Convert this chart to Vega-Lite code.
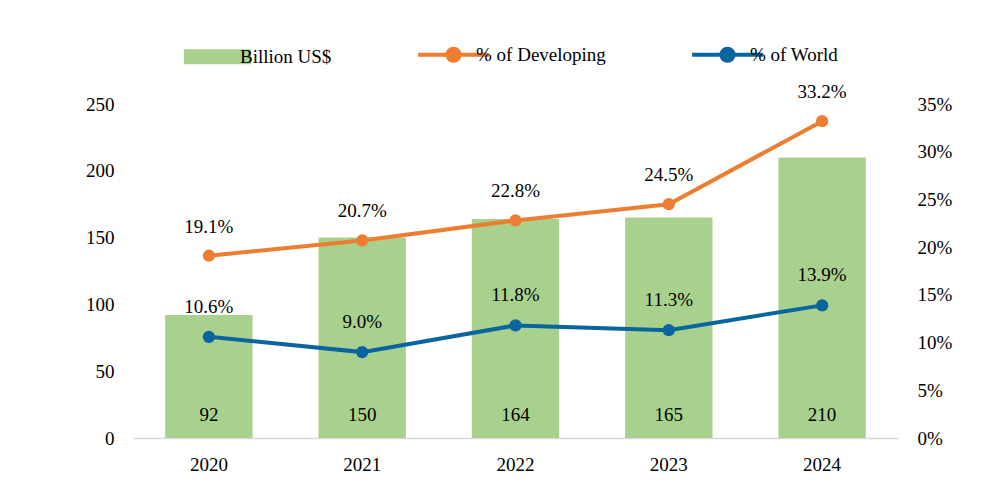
{
  "$schema": "https://vega.github.io/schema/vega-lite/v6.json",
  "autosize": "none",
  "width": 765,
  "height": 334,
  "padding": {"left": 133, "top": 104, "right": 95, "bottom": 47},
  "background": "white",
  "config": {
    "font": "Liberation Serif",
    "view": {"stroke": null},
    "axis": {"labelFont": "Liberation Serif", "labelFontSize": 19, "labelColor": "#000", "grid": false, "title": null}
  },
  "data": {
    "values": [
      {"year": "2020", "billion": 92, "developing": 0.191, "world": 0.106},
      {"year": "2021", "billion": 150, "developing": 0.207, "world": 0.090},
      {"year": "2022", "billion": 164, "developing": 0.228, "world": 0.118},
      {"year": "2023", "billion": 165, "developing": 0.245, "world": 0.113},
      {"year": "2024", "billion": 210, "developing": 0.332, "world": 0.139}
    ]
  },
  "encoding": {
    "x": {
      "field": "year", "type": "ordinal",
      "scale": {"paddingInner": 0.43, "paddingOuter": 0.21},
      "axis": {"labelAngle": 0, "domainColor": "#D9D9D9", "domainWidth": 1.5, "ticks": false, "tickSize": 0, "labelPadding": 17, "title": null}
    }
  },
  "layer": [
    {
      "layer": [
        {
          "mark": {"type": "bar"},
          "encoding": {
            "y": {"field": "billion", "type": "quantitative", "scale": {"domain": [0, 250], "nice": false},
              "axis": {"values": [0, 50, 100, 150, 200, 250], "domain": false, "ticks": false, "tickSize": 0, "labelPadding": 19, "title": null}},
            "color": {
              "datum": "Billion US$", "type": "nominal",
              "scale": {"domain": ["Billion US$", "% of Developing", "% of World"], "range": ["#A9D18E", "#ED7D31", "#0A659E"]},
              "legend": {
                "title": null,
                "orient": "none",
                "legendX": 75,
                "legendY": -59,
                "direction": "horizontal",
                "padding": 0,
                "columnPadding": 78,
                "labelOffset": 13,
                "labelFontSize": 19,
                "labelFont": "Liberation Serif",
                "labelColor": "#000",
                "symbolSize": 5000,
                "encode": {
                  "symbols": {
                    "update": {
                      "shape": {"signal": "datum.value === 'Billion US$' ? 'M-0.95,-0.21H0.95V0.21H-0.95Z' : 'M-1,0H1M0.17,0A0.17,0.17,0,1,1,-0.17,0A0.17,0.17,0,1,1,0.17,0Z'"},
                      "size": {"value": 5000},
                      "fill": {"signal": "scale('color', datum.value)"},
                      "stroke": {"signal": "scale('color', datum.value)"},
                      "strokeWidth": {"signal": "datum.value === 'Billion US$' ? 0 : 4"},
                      "opacity": {"value": 1},
                      "fillOpacity": {"value": 1}
                    }
                  }
                }
              }
            }
          }
        },
        {
          "mark": {"type": "text", "fontSize": 19, "color": "#000", "dy": -23, "baseline": "middle"},
          "encoding": {
            "y": {"datum": 0, "type": "quantitative"},
            "text": {"field": "billion", "type": "quantitative"}
          }
        }
      ]
    },
    {
      "layer": [
        {
          "mark": {"type": "line", "strokeWidth": 4, "point": {"filled": true, "size": 150}},
          "encoding": {
            "y": {"field": "developing", "type": "quantitative", "scale": {"domain": [0, 0.35], "nice": false},
              "axis": {"orient": "right", "values": [0, 0.05, 0.1, 0.15, 0.2, 0.25, 0.3, 0.35], "format": ".0%", "domain": false, "ticks": false, "tickSize": 0, "labelPadding": 19, "title": null}},
            "color": {"datum": "% of Developing", "type": "nominal"}
          }
        },
        {
          "mark": {"type": "line", "strokeWidth": 4, "point": {"filled": true, "size": 150}},
          "encoding": {
            "y": {"field": "world", "type": "quantitative"},
            "color": {"datum": "% of World", "type": "nominal"}
          }
        },
        {
          "mark": {"type": "text", "fontSize": 19, "color": "#000", "dy": -29, "baseline": "middle"},
          "encoding": {
            "y": {"field": "developing", "type": "quantitative"},
            "text": {"field": "developing", "type": "quantitative", "format": ".1%"}
          }
        },
        {
          "mark": {"type": "text", "fontSize": 19, "color": "#000", "dy": -30, "baseline": "middle"},
          "encoding": {
            "y": {"field": "world", "type": "quantitative"},
            "text": {"field": "world", "type": "quantitative", "format": ".1%"}
          }
        }
      ]
    }
  ],
  "resolve": {"scale": {"y": "independent"}}
}
